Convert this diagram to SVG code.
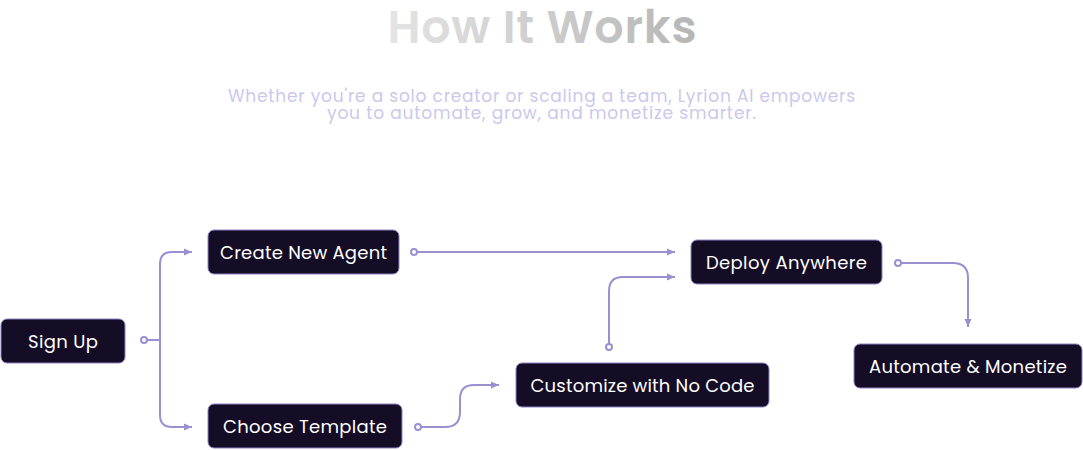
<svg xmlns="http://www.w3.org/2000/svg" width="1083" height="450" viewBox="0 0 1083 450">
<defs>
<linearGradient id="tg" x1="0" y1="0" x2="1" y2="0">
<stop offset="0" stop-color="#e4e4e4"/>
<stop offset="1" stop-color="#b6b6b6"/>
</linearGradient>
<marker id="ah" markerUnits="userSpaceOnUse" markerWidth="10" markerHeight="10" viewBox="0 0 10 10" refX="9" refY="5" orient="auto">
<path d="M1,1.5 L9,5 L1,8.5 Z" fill="#9a8fd0"/>
</marker>
<style>
.box{fill:#150d26;stroke:#8e82c8;stroke-width:1}
.lbl{font-family:"Poppins","Inter","Noto Sans",sans-serif;font-size:18px;font-weight:400;fill:#ffffff;text-anchor:middle}
.con{fill:none;stroke:#9a8fd0;stroke-width:2}
.dot{fill:#ffffff;stroke:#9a8fd0;stroke-width:2}
.sub{font-family:"Poppins","Inter","Noto Sans",sans-serif;font-size:17px;font-weight:400;fill:#cbc8ec;text-anchor:middle}
</style>
</defs>
<rect width="1083" height="450" fill="#ffffff"/>
<text x="542" y="43" font-family="Poppins, Inter, 'Noto Sans', sans-serif" font-size="46" font-weight="600" fill="url(#tg)" text-anchor="middle" textLength="309" lengthAdjust="spacing">How It Works</text>
<text class="sub" x="541.5" y="102" textLength="627" lengthAdjust="spacing">Whether you're a solo creator or scaling a team, Lyrion AI empowers</text>
<text class="sub" x="541.5" y="119" textLength="429" lengthAdjust="spacing">you to automate, grow, and monetize smarter.</text>
<g id="connectors">
<path class="con" d="M144,340 H160 V264 Q160,252 172,252 H192" marker-end="url(#ah)"/>
<path class="con" d="M160,340 V415 Q160,427 172,427 H192" marker-end="url(#ah)"/>
<path class="con" d="M414,252 H675" marker-end="url(#ah)"/>
<path class="con" d="M418,427 H445 Q460,427 460,412 V399 Q460,385 474,385 H499" marker-end="url(#ah)"/>
<path class="con" d="M609,347 V291 Q609,277 623,277 H675" marker-end="url(#ah)"/>
<path class="con" d="M898,263 H953 Q968,263 968,278 V327" marker-end="url(#ah)"/>
<circle class="dot" cx="144" cy="340" r="3"/>
<circle class="dot" cx="414" cy="252" r="3"/>
<circle class="dot" cx="418" cy="427" r="3"/>
<circle class="dot" cx="609" cy="347" r="3"/>
<circle class="dot" cx="898" cy="263" r="3"/>
</g>
<g id="sign-up">
<rect class="box" x="1" y="319" width="124" height="44" rx="6"/>
<text class="lbl" x="63" y="348" textLength="70" lengthAdjust="spacing">Sign Up</text>
</g>
<g id="create-new-agent">
<rect class="box" x="208" y="230" width="191" height="44" rx="6"/>
<text class="lbl" x="303.5" y="259" textLength="167" lengthAdjust="spacing">Create New Agent</text>
</g>
<g id="choose-template">
<rect class="box" x="208" y="404" width="194" height="44" rx="6"/>
<text class="lbl" x="305" y="433" textLength="164" lengthAdjust="spacing">Choose Template</text>
</g>
<g id="customize">
<rect class="box" x="516" y="363" width="253" height="44" rx="6"/>
<text class="lbl" x="642.5" y="392" textLength="224" lengthAdjust="spacing">Customize with No Code</text>
</g>
<g id="deploy-anywhere">
<rect class="box" x="691" y="240" width="191" height="44" rx="6"/>
<text class="lbl" x="786.5" y="269" textLength="161" lengthAdjust="spacing">Deploy Anywhere</text>
</g>
<g id="automate-monetize">
<rect class="box" x="854" y="344" width="228" height="44" rx="6"/>
<text class="lbl" x="968" y="373" textLength="198" lengthAdjust="spacing">Automate &amp; Monetize</text>
</g>
</svg>
